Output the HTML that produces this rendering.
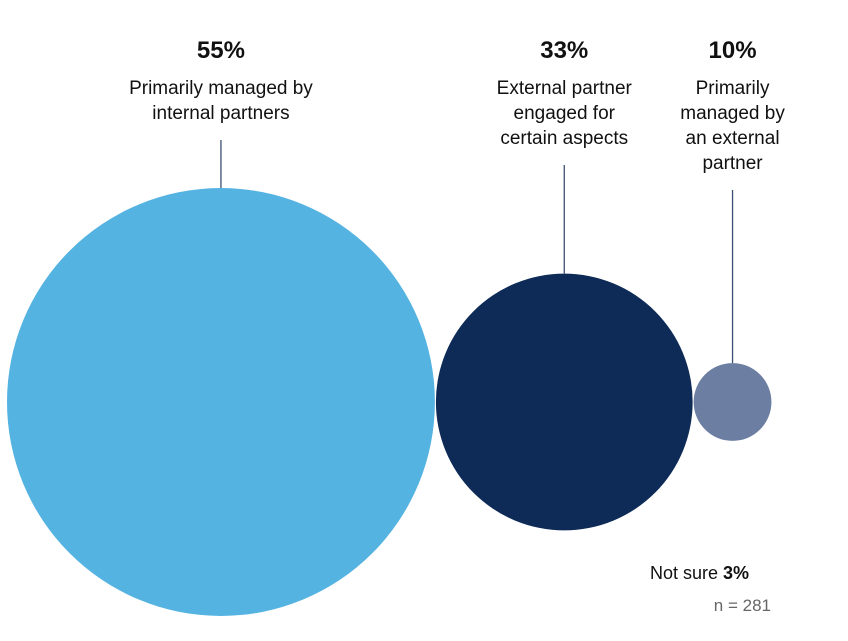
<!DOCTYPE html>
<html><head><meta charset="utf-8">
<style>
html,body{margin:0;padding:0;background:#fff;width:848px;height:641px;overflow:hidden}
svg{display:block;font-family:"Liberation Sans",sans-serif}
</style></head>
<body>
<svg id="chart" width="848" height="641">
<text x="650" y="579" font-size="18" fill="#111">Not sure <tspan font-weight="bold">3%</tspan></text>
<text x="771" y="611" font-size="17" fill="#666" text-anchor="end">n = 281</text>
</svg>
<script>
const categories = ["Primarily managed by internal partners","External partner engaged for certain aspects","Primarily managed by an external partner"];
const values = [55, 33, 10];
const valueLabels = ["55%", "33%", "10%"];
const labelLines = [["Primarily managed by","internal partners"],["External partner","engaged for","certain aspects"],["Primarily","managed by","an external","partner"]];
const colors = ["#55b3e2", "#0e2a57", "#6c7fa3"];

const svg = document.getElementById('chart');
const NS = "http://www.w3.org/2000/svg";
const rScale = v => v * 3.89;
const cy = 402;
let left = 7;
values.forEach((v, i) => {
  const r = rScale(v);
  const cx = left + r;
  left += 2 * r + 1;
  const c = document.createElementNS(NS, 'circle');
  c.setAttribute('cx', cx); c.setAttribute('cy', cy); c.setAttribute('r', r);
  c.setAttribute('fill', colors[i]);
  
  
  svg.appendChild(c);
  const pct = document.createElementNS(NS, 'text');
  pct.setAttribute('x', cx); pct.setAttribute('y', 58);
  pct.setAttribute('text-anchor', 'middle'); pct.setAttribute('font-size', '24');
  pct.setAttribute('font-weight', 'bold'); pct.setAttribute('fill', '#111');
  pct.textContent = valueLabels[i];
  
  
  svg.appendChild(pct);
  const lines = labelLines[i];
  lines.forEach((ln, j) => {
    const t = document.createElementNS(NS, 'text');
    t.setAttribute('x', cx); t.setAttribute('y', 94 + j * 25);
    t.setAttribute('text-anchor', 'middle'); t.setAttribute('font-size', '19');
    t.setAttribute('fill', '#111');
    t.textContent = ln;
    
    
    svg.appendChild(t);
  });
  const y1 = 94 + (lines.length - 1) * 25 + 21;
  const l = document.createElementNS(NS, 'line');
  l.setAttribute('x1', cx); l.setAttribute('x2', cx);
  l.setAttribute('y1', y1); l.setAttribute('y2', cy - r);
  l.setAttribute('stroke', '#3c4f72'); l.setAttribute('stroke-width', '1.3');
  
  
  svg.appendChild(l);
});
</script>
</body></html>
